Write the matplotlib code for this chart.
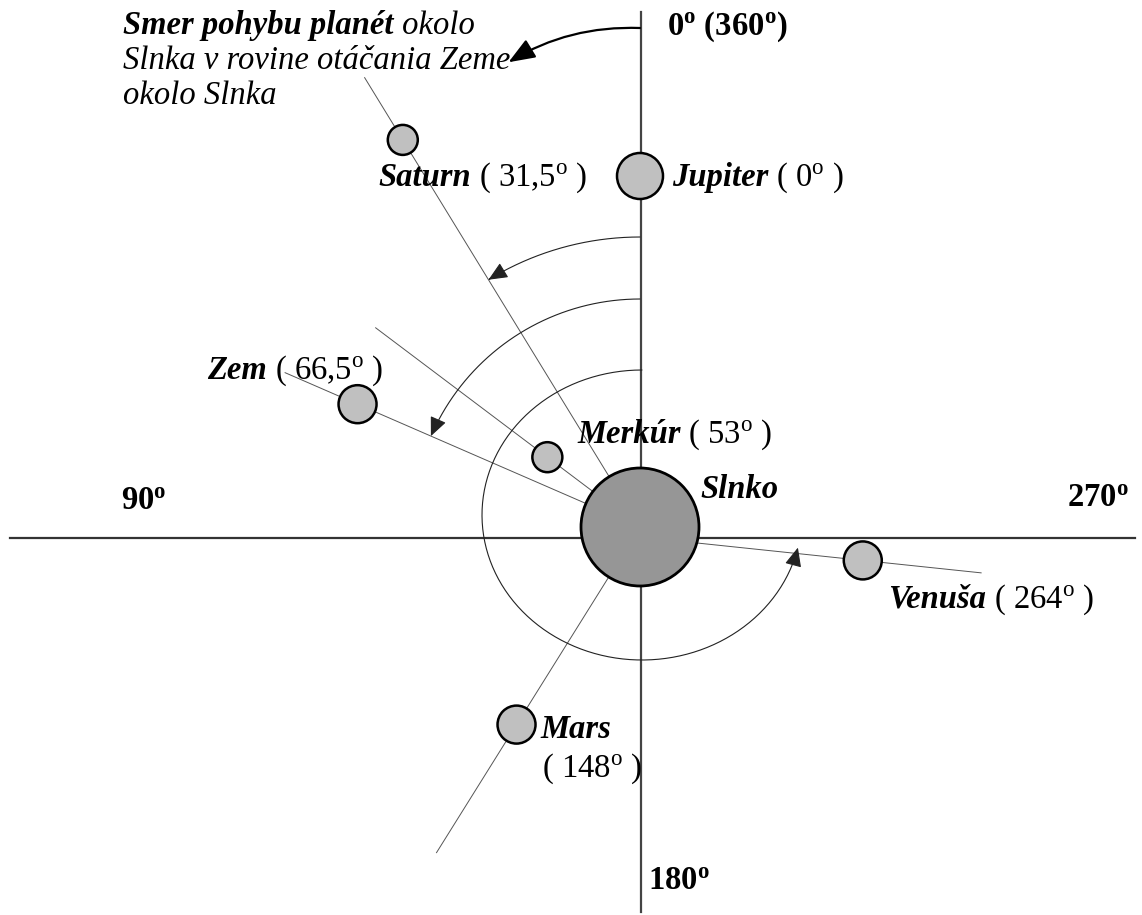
import numpy as np
import matplotlib.pyplot as plt
from matplotlib.patches import Circle, FancyArrowPatch, ArrowStyle
from matplotlib.path import Path

plt.rcParams['font.family'] = ['Liberation Serif', 'DejaVu Serif']
plt.rcParams['mathtext.fontset'] = 'custom'
plt.rcParams['mathtext.rm'] = 'Liberation Serif'
plt.rcParams['mathtext.it'] = 'Liberation Serif:italic'
plt.rcParams['mathtext.bf'] = 'Liberation Serif:bold'

# heliocentric longitudes, counted counter-clockwise from the top
planets = ['Jupiter', 'Saturn', 'Merkúr', 'Zem', 'Mars', 'Venuša']
angles = [0, 31.5, 53, 66.5, 148, 264]
angle_labels = ['0', '31,5', '53', '66,5', '148', '264']
distances = [351, 454, 116, 308, 233, 224]
planet_radius = [23, 15, 15, 19, 19, 19]
ray_length = [0, 527, 331, 387, 384, 343]
ray_origin_dy = [0, 0, 0, 0, 0, 10]

# arcs showing the sense of the angle, ending on Saturn, Zem and Venuša
arc_end = [31.5, 66.5, 257]
arc_rx = [290, 228, 160]
arc_ry = [290, 228, 145]
arc_shift = [(0, 0), (0, 0), (2, -12)]

SUN = (640, 527)
SUN_R = 59
AXIS_Y = 538
FS = 23.5


def polar(angle, r, center=SUN, ry=None):
    t = np.radians(angle)
    ry = r if ry is None else ry
    return center[0] - r * np.sin(t), center[1] - ry * np.cos(t)


fig = plt.figure(figsize=(11.42, 9.15), dpi=100)
ax = fig.add_axes([0, 0, 1, 1])
ax.set_xlim(0, 1142)
ax.set_ylim(915, 0)
ax.axis('off')

# cross of the 0/90/180/270 directions
ax.plot([SUN[0] + 1, SUN[0] + 1], [12, 912], color='#444444', lw=1.6, zorder=2)
ax.plot([10, 1135], [AXIS_Y, AXIS_Y], color='#333333', lw=1.6, zorder=2)

# rays from the Sun through the planets, and the planets on them
for a, d, r, L, oy in zip(angles, distances, planet_radius, ray_length, ray_origin_dy):
    origin = (SUN[0], SUN[1] + oy)
    if L:
        x, y = polar(a, L, origin)
        ax.plot([origin[0], x], [origin[1], y], color='#555555', lw=0.7, zorder=1)
    ax.add_patch(Circle(polar(a, d, origin), r, facecolor='#c0c0c0',
                        edgecolor='black', lw=1.8, zorder=3))

# arcs with arrow heads
head = ArrowStyle('-|>', head_length=0.9, head_width=0.4)
for end, rx, ry, (dx, dy) in zip(arc_end, arc_rx, arc_ry, arc_shift):
    t = np.linspace(0, end, 200)
    x, y = polar(t, rx, (SUN[0] + dx, SUN[1] + dy), ry)
    arr = FancyArrowPatch(path=Path(np.column_stack([x, y])), arrowstyle=head,
                          mutation_scale=13, color='#222222', lw=0.8, zorder=2)
    ax.add_patch(arr)

# Sun
ax.add_patch(Circle(SUN, SUN_R, facecolor='#969696', edgecolor='black', lw=2, zorder=4))

# direction of motion arrow
ax.annotate('', xy=polar(15.8, 483), xytext=polar(0, 499),
            arrowprops=dict(arrowstyle='-|>,head_length=0.9,head_width=0.35',
                            mutation_scale=18, color='black', lw=1.6,
                            connectionstyle='arc3,rad=0.15', shrinkA=0, shrinkB=0))


def label(x, y, name, rest):
    t = ax.text(x, y, name, fontsize=FS, fontweight='bold', fontstyle='italic',
                va='baseline', zorder=5)
    if rest:
        ax.annotate(rest, xy=(1, y), xycoords=(t, 'data'), fontsize=FS,
                    va='baseline', zorder=5)
    return t


deg = r'$^{\mathrm{o}}$'
bdeg = r'$^{\mathbf{o}}$'
label_pos = {'Jupiter': (672, 186), 'Saturn': (378, 186), 'Merkúr': (577, 443),
             'Zem': (207, 379), 'Venuša': (888, 608)}
for name, lab in zip(planets, angle_labels):
    if name in label_pos:
        label(*label_pos[name], name, ' ( ' + lab + deg + ' )')
label(540, 738, 'Mars', '')
ax.text(542, 777, '( 148' + deg + ' )', fontsize=FS, va='baseline')
label(700, 498, 'Slnko', '')

for txt, (x, y) in [('0' + bdeg + ' (360' + bdeg + ')', (667, 35)),
                    ('90' + bdeg, (121, 510)),
                    ('270' + bdeg, (1067, 507)),
                    ('180' + bdeg, (648, 890))]:
    ax.text(x, y, txt, fontsize=FS, fontweight='bold', va='baseline')

# caption
t = label(123, 34, 'Smer pohybu planét', '')
ax.annotate(' okolo', xy=(1, 34), xycoords=(t, 'data'), fontsize=FS,
            fontstyle='italic', va='baseline')
ax.text(123, 69, 'Slnka v rovine otáčania Zeme', fontsize=FS, fontstyle='italic',
        va='baseline')
ax.text(123, 104, 'okolo Slnka', fontsize=FS, fontstyle='italic', va='baseline')

fig.savefig('out.png', dpi=100)
